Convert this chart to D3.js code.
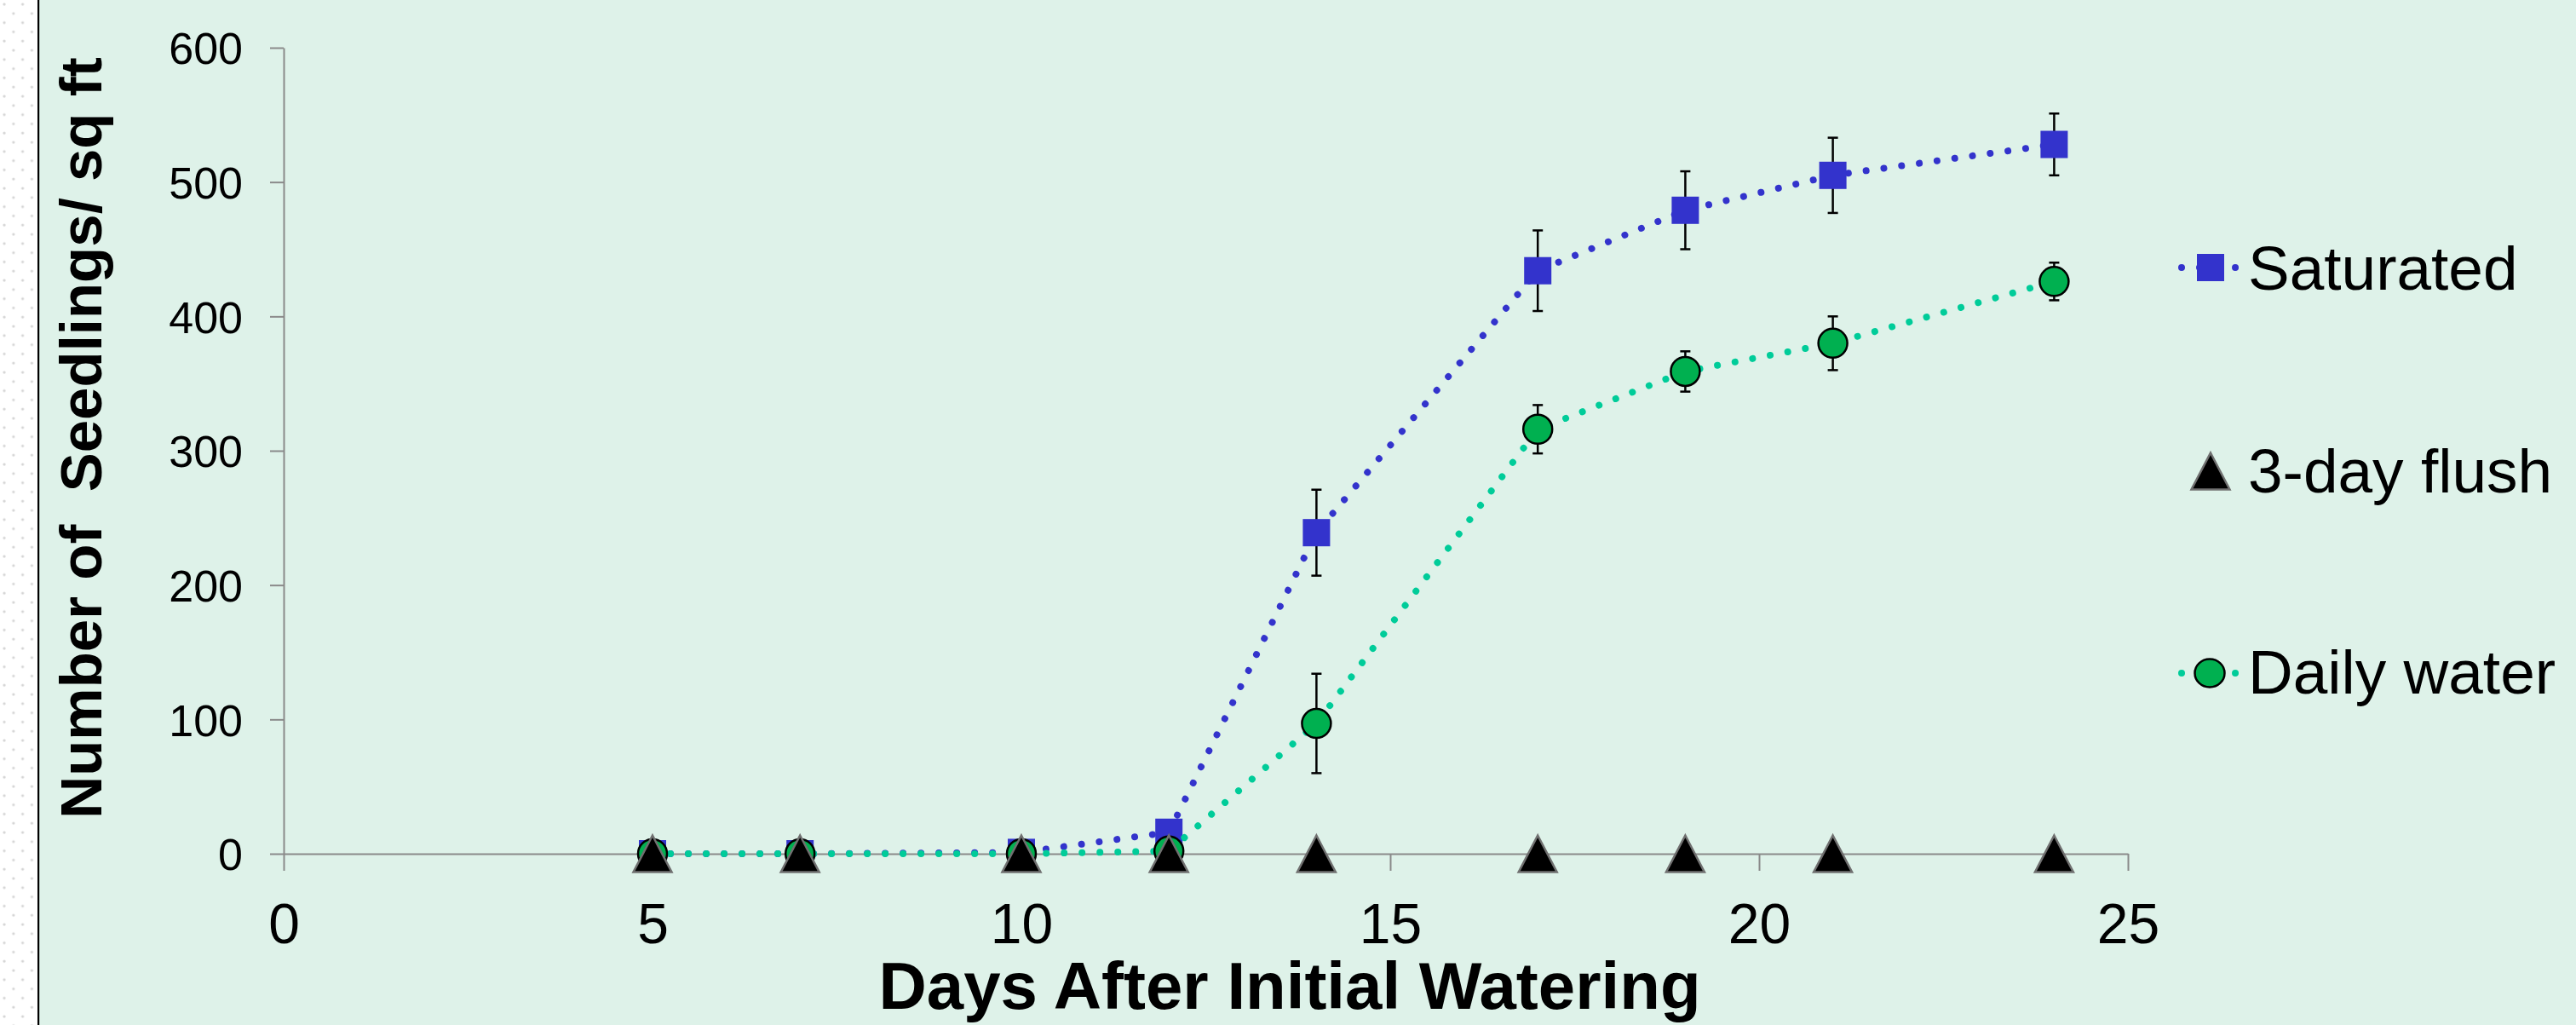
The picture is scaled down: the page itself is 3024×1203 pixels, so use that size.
<!DOCTYPE html>
<html>
<head>
<meta charset="utf-8">
<script src="https://cdn.jsdelivr.net/npm/d3@7"></script>
<style>
  html, body { margin: 0; padding: 0; background: #ffffff; }
  svg { display: block; }
  text { font-family: "Liberation Sans", Arial, sans-serif; }
</style>
</head>
<body>
<svg id="chart" width="3024" height="1203"></svg>
<script>
// ---- data ----
const days = [5, 7, 10, 12, 14, 17, 19, 21, 24];
const saturated = [0, 0, 1, 16, 239, 434, 479, 505, 528];
const saturatedErr = [0, 0, 0, 0, 32, 30, 29, 28, 23];
const flush = [0, 0, 0, 0, 0, 0, 0, 0, 0];
const daily = [0, 0, 0, 2, 97, 316, 359, 380, 426];
const dailyErr = [0, 0, 0, 0, 37, 18, 15, 20, 14];
const xTicks = [0, 5, 10, 15, 20, 25];
const yTicks = [0, 100, 200, 300, 400, 500, 600];
const seriesNames = ["Saturated", "3-day flush", "Daily water"];

const satColor = "#3333CC";
const dailyLine = "#00CC99";
const dailyFill = "#00B050";
const axisColor = "#8A8A8A";

const svg = d3.select("#chart");

// background: dotted left strip + mint panel
const defs = svg.append("defs");
const pat = defs.append("pattern").attr("id", "dots").attr("patternUnits", "userSpaceOnUse")
  .attr("width", 21.6).attr("height", 21.6);
pat.append("rect").attr("width", 21.6).attr("height", 21.6).attr("fill", "#ffffff");
pat.append("circle").attr("cx", 5).attr("cy", 5).attr("r", 1.6).attr("fill", "#d4d4d4");
pat.append("circle").attr("cx", 15.8).attr("cy", 15.8).attr("r", 1.6).attr("fill", "#d4d4d4");
svg.append("rect").attr("x", 0).attr("y", 0).attr("width", 45).attr("height", 1203).attr("fill", "url(#dots)");
svg.append("rect").attr("x", 46).attr("y", 0).attr("width", 3024 - 46).attr("height", 1203).attr("fill", "#DEF2E9");
svg.append("rect").attr("x", 44).attr("y", 0).attr("width", 2.2).attr("height", 1203).attr("fill", "#000");

// scales
const x = d3.scaleLinear().domain([0, 25]).range([333, 2498]);
const y = d3.scaleLinear().domain([0, 600]).range([1002, 56]);

// axes
const yAxis = svg.append("g").attr("transform", `translate(${x(0)},0)`)
  .call(d3.axisLeft(y).tickValues(yTicks).tickSize(16).tickSizeOuter(0).tickPadding(32));
yAxis.select(".domain").attr("stroke", axisColor).attr("stroke-width", 2);
yAxis.selectAll(".tick line").attr("stroke", axisColor).attr("stroke-width", 2);
yAxis.selectAll(".tick text").attr("font-size", 52).attr("fill", "#000")
  .attr("font-family", "'Liberation Sans', Arial, sans-serif").attr("dy", "0.36em");

const xAxis = svg.append("g").attr("transform", `translate(0,${y(0)})`)
  .call(d3.axisBottom(x).tickValues(xTicks).tickSize(20).tickSizeOuter(0).tickPadding(0));
xAxis.select(".domain").attr("stroke", axisColor).attr("stroke-width", 2);
xAxis.selectAll(".tick line").attr("stroke", axisColor).attr("stroke-width", 2);
xAxis.selectAll(".tick text").attr("font-size", 66).attr("fill", "#000")
  .attr("font-family", "'Liberation Sans', Arial, sans-serif").attr("y", 105).attr("dy", 0);

// axis titles
svg.append("text").attr("x", 1514).attr("y", 1184).attr("text-anchor", "middle")
  .attr("font-size", 78).attr("font-weight", "bold").attr("fill", "#000")
  .text("Days After Initial Watering");
svg.append("text").attr("transform", "translate(119,514) rotate(-90)").attr("text-anchor", "middle")
  .attr("font-size", 69).attr("font-weight", "bold").attr("fill", "#000")
  .style("white-space", "pre")
  .text("Number of  Seedlings/ sq ft");

// lines
const satData = days.map((d, i) => ({ x: d, y: saturated[i], e: saturatedErr[i] }));
const dailyData = days.map((d, i) => ({ x: d, y: daily[i], e: dailyErr[i] }));
const flushData = days.map((d, i) => ({ x: d, y: flush[i] }));

const line = d3.line().x(d => x(d.x)).y(d => y(d.y)).curve(d3.curveLinear);

function errBars(data) {
  const g = svg.append("g").attr("stroke", "#000").attr("stroke-width", 2.5);
  data.filter(d => d.e > 0).forEach(d => {
    const cx = x(d.x);
    g.append("line").attr("x1", cx).attr("x2", cx).attr("y1", y(d.y + d.e)).attr("y2", y(d.y - d.e));
    g.append("line").attr("x1", cx - 6).attr("x2", cx + 6).attr("y1", y(d.y + d.e)).attr("y2", y(d.y + d.e));
    g.append("line").attr("x1", cx - 6).attr("x2", cx + 6).attr("y1", y(d.y - d.e)).attr("y2", y(d.y - d.e));
  });
}

svg.append("path").datum(satData).attr("d", line).attr("fill", "none")
  .attr("stroke", satColor).attr("stroke-width", 8).attr("stroke-linecap", "round")
  .attr("stroke-linejoin", "round").attr("stroke-dasharray", "0.01 21");
errBars(satData);
svg.append("g").selectAll("rect").data(satData).join("rect")
  .attr("x", d => x(d.x) - 16).attr("y", d => y(d.y) - 16)
  .attr("width", 32).attr("height", 32).attr("fill", satColor);

svg.append("path").datum(dailyData).attr("d", line).attr("fill", "none")
  .attr("stroke", dailyLine).attr("stroke-width", 8).attr("stroke-linecap", "round")
  .attr("stroke-linejoin", "round").attr("stroke-dasharray", "0.01 21");
errBars(dailyData);
svg.append("g").selectAll("ellipse").data(dailyData).join("ellipse")
  .attr("cx", d => x(d.x)).attr("cy", d => y(d.y)).attr("rx", 17).attr("ry", 17)
  .attr("fill", dailyFill).attr("stroke", "#000").attr("stroke-width", 2.5);

const triPath = "M0,-21.5 L22.5,21.5 L-22.5,21.5 Z";
svg.append("g").selectAll("path").data(flushData).join("path")
  .attr("transform", d => `translate(${x(d.x)},${y(d.y)})`)
  .attr("d", triPath).attr("fill", "#000").attr("stroke", "#707070").attr("stroke-width", 2.5)
  .attr("stroke-linejoin", "miter");

// legend
const lg = svg.append("g");
const legendY = [314, 553, 790];
const legendTextY = [340, 578, 814];
lg.append("line").attr("x1", 2561).attr("x2", 2625).attr("y1", legendY[0]).attr("y2", legendY[0])
  .attr("stroke", satColor).attr("stroke-width", 8).attr("stroke-linecap", "round").attr("stroke-dasharray", "0.01 21");
lg.append("rect").attr("x", 2595 - 16).attr("y", legendY[0] - 16).attr("width", 32).attr("height", 32).attr("fill", satColor);
lg.append("path").attr("transform", `translate(2595,${legendY[1]})`).attr("d", triPath)
  .attr("fill", "#000").attr("stroke", "#707070").attr("stroke-width", 2.5);
lg.append("line").attr("x1", 2561).attr("x2", 2625).attr("y1", legendY[2]).attr("y2", legendY[2])
  .attr("stroke", dailyLine).attr("stroke-width", 8).attr("stroke-linecap", "round").attr("stroke-dasharray", "0.01 21");
lg.append("ellipse").attr("cx", 2594).attr("cy", legendY[2]).attr("rx", 17.5).attr("ry", 16.5)
  .attr("fill", dailyFill).attr("stroke", "#000").attr("stroke-width", 2.5);
seriesNames.forEach((n, i) => {
  lg.append("text").attr("x", 2639).attr("y", legendTextY[i]).attr("font-size", 73).attr("fill", "#000").text(n);
});
</script>
</body>
</html>
